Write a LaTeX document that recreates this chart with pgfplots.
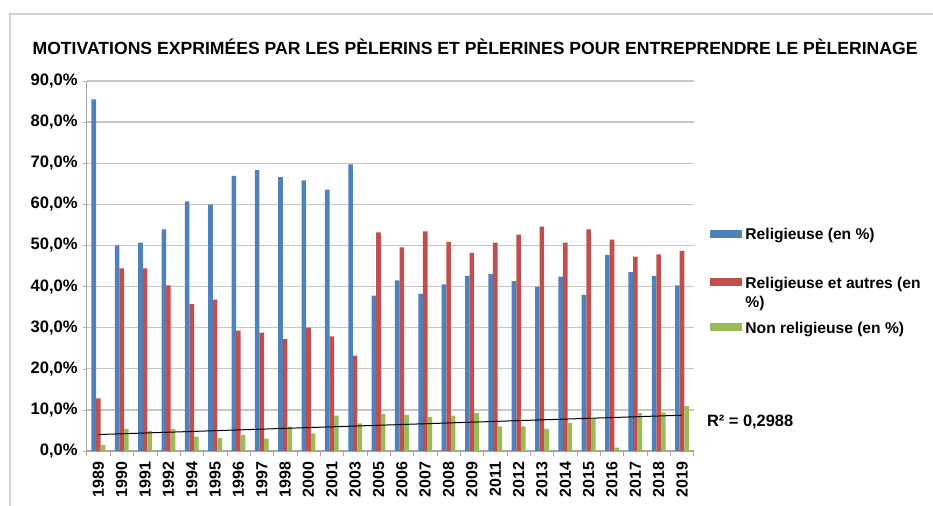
\documentclass[border=0pt]{standalone}
\usepackage{pgfplots}
\usepackage{pgfplotstable}
\pgfplotsset{compat=1.18}
\usepackage{fontspec}
\setmainfont{Liberation Sans}
\definecolor{cblue}{HTML}{4F81BD}
\definecolor{cred}{HTML}{C0504D}
\definecolor{cgreen}{HTML}{9BBB59}
\pgfplotstableread{
idx year rel relaut nonrel
0 1989 85.5 12.8 1.5
1 1990 50.0 44.4 5.4
2 1991 50.7 44.4 4.9
3 1992 53.9 40.3 5.4
4 1994 60.7 35.7 3.5
5 1995 59.9 36.8 3.1
6 1996 66.9 29.3 3.9
7 1997 68.3 28.8 3.0
8 1998 66.6 27.2 5.9
9 2000 65.8 30.0 4.3
10 2001 63.6 27.9 8.6
11 2003 69.7 23.2 6.7
12 2005 37.8 53.2 9.0
13 2006 41.5 49.5 8.8
14 2007 38.2 53.4 8.3
15 2008 40.5 50.8 8.6
16 2009 42.6 48.2 9.2
17 2011 43.0 50.7 6.0
18 2012 41.3 52.6 6.0
19 2013 40.0 54.6 5.4
20 2014 42.4 50.7 6.8
21 2015 38.0 53.9 7.9
22 2016 47.7 51.4 0.8
23 2017 43.5 47.3 9.2
24 2018 42.6 47.8 9.4
25 2019 40.3 48.7 10.9
}\data
\begin{document}
\begin{tikzpicture}
\path[use as bounding box] (-43.35pt,-27.5pt) rectangle (423.15pt,225.5pt);
\draw[gray!35, line width=1pt] (-38.35pt,-27.5pt) -- (-38.35pt,218.5pt) -- (423.15pt,218.5pt);
\begin{axis}[
  scale only axis, width=303.5pt, height=185pt,
  ybar=0pt, bar width=2.3pt,
  xmin=-0.5, xmax=25.5, ymin=0, ymax=90,
  xtick={0,...,25},
  xticklabels from table={\data}{year},
  xticklabel style={rotate=90, anchor=east, font=\bfseries\fontsize{8}{8}\selectfont},
  major x tick style={draw=none},
  minor xtick={-0.5,0.5,...,25.5},
  minor x tick style={gray!70},
  minor tick length=2.5pt,
  major tick length=2pt,
  tick align=outside,
  ytick={0,10,...,90},
  yticklabel={\pgfmathprintnumber[fixed,fixed zerofill,precision=1,use comma,assume math mode=true]{\tick}\%},
  yticklabel style={font=\bfseries\fontsize{8.3}{8.3}\selectfont, xshift=1pt},
  y tick style={gray!60},
  ymajorgrids, grid style={gray!45, line width=0.7pt},
  axis x line*=bottom, axis y line*=left,
  axis line style={gray!70, line width=0.6pt, -},
  legend cell align=left,
  legend style={at={(1.027,0.6026)}, anchor=north west, draw=none, fill=none,
    inner sep=0pt, row sep=6pt, column sep=1.5pt,
    nodes={inner sep=0pt},
    font=\bfseries\fontsize{7.8}{9.5}\selectfont},
]
\addplot[fill=cblue, draw=none,
  legend image code/.code={\path[fill=cblue] (0pt,-1pt) rectangle (16pt,3pt); \path (0pt,-14.8pt);}]
  table[x=idx,y=rel]{\data};
\addlegendentry{Religieuse (en \%)}
\addplot[fill=cred, draw=none,
  legend image code/.code={\path[fill=cred] (0pt,-1pt) rectangle (16pt,3pt); \path (0pt,-12.8pt);}]
  table[x=idx,y=relaut]{\data};
\addlegendentry{\parbox[t]{93pt}{\raggedright Religieuse et autres (en \%)}}
\addplot[fill=cgreen, draw=none,
  legend image code/.code={\path[fill=cgreen] (0pt,-1pt) rectangle (16pt,3pt);}]
  table[x=idx,y=nonrel]{\data};
\addlegendentry{Non religieuse (en \%)}
\addplot[sharp plot, black, line width=0.5pt, forget plot] coordinates {(0,4.0) (25,8.7)};
\end{axis}
\node[anchor=west, font=\bfseries\fontsize{8.2}{9}\selectfont] at (306.65pt,14.5pt) {R² = 0,2988};
\node[font=\bfseries\fontsize{8.8}{10}\selectfont] at (194.2pt,202pt) {MOTIVATIONS EXPRIMÉES PAR LES PÈLERINS ET PÈLERINES POUR ENTREPRENDRE LE PÈLERINAGE};
\end{tikzpicture}
\end{document}
